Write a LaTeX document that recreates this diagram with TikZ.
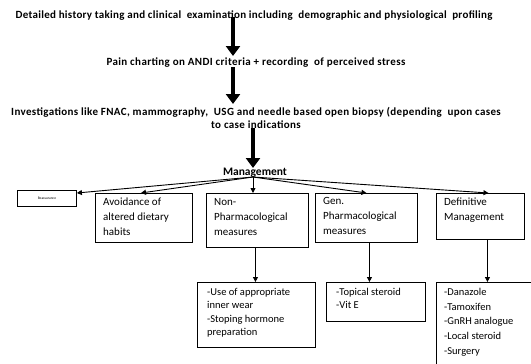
\documentclass[tikz,border=0pt]{standalone}
\usepackage{fontspec}
\setmainfont{Carlito}
\usetikzlibrary{arrows.meta}
\begin{document}
\begin{tikzpicture}[x=1pt,y=-1pt,
  toptext/.style={inner sep=0pt, align=center},
  bigarrow/.style={line width=4.5pt,-{Triangle[length=10pt,width=14pt]}},
  thinarrow/.style={line width=0.9pt,-{Triangle[length=5pt,width=5pt]}},
  catbox/.style={draw, line width=0.9pt, anchor=north west, inner sep=0pt},
  boxtext/.style={anchor=north west, inner sep=0pt, align=left, font=\fontsize{11}{15}\selectfont},
  subtext/.style={anchor=north west, inner sep=0pt, align=left, font=\fontsize{10.5}{13.5}\selectfont}
]
\useasboundingbox (0,0) rectangle (531,364);
\clip (0,0) rectangle (531,364);

% top texts
\node[toptext, font=\fontsize{11}{13}\selectfont\bfseries\addfontfeatures{LetterSpace=2.6}] (l1) at (254,16) {Detailed history taking and clinical\ \ examination including\ \ demographic and physiological\ \ profiling};
\node[toptext, font=\fontsize{11}{13}\selectfont\bfseries\addfontfeatures{LetterSpace=3.5}] (l2) at (256,63) {Pain charting on ANDI criteria + recording\ \ of perceived stress};
\node[toptext, font=\fontsize{11}{13}\selectfont\bfseries\addfontfeatures{LetterSpace=3.3}] (l3) at (256,118) {Investigations like FNAC, mammography,\ \ USG and needle based open biopsy (depending\ \ upon cases\\to case indications};
\node[font=\fontsize{11.5}{13}\selectfont\bfseries, inner sep=0pt] (mgt) at (255,173) {Management};

\coordinate (a1s) at (233,17);
\coordinate (a2s) at (233,67);
\coordinate (a3s) at (253,128);
\draw[bigarrow] (a1s) -- (233,56);
\draw[bigarrow] (a2s) -- (233,104);
\draw[bigarrow] (a3s) -- (253,168);

% category boxes
\node[catbox, minimum width=59pt, minimum height=16pt] (reass) at (17,190) {};
\node[font=\fontsize{3.6}{4}\selectfont, inner sep=0pt] at (reass.center) {Reassurance};
\node[catbox, minimum width=97pt, minimum height=49pt] (avoid) at (95,193) {};
\node[boxtext] at (103,198) {Avoidance of\\altered dietary\\habits};
\node[catbox, minimum width=102pt, minimum height=54pt] (np) at (206,193) {};
\node[boxtext] at (214,198) {Non-\\Pharmacological\\measures};
\node[catbox, minimum width=102pt, minimum height=49pt] (gen) at (315,193) {};
\node[boxtext] at (323,197) {Gen.\\Pharmacological\\measures};
\node[catbox, minimum width=88pt, minimum height=46pt] (def) at (436,193) {};
\node[boxtext] at (444,198) {Definitive\\Management};

% branch
\coordinate (mg) at (253,177);
\draw[thinarrow] (mg) -- ([yshift=-3pt]reass.north east);
\draw[thinarrow] (mg) -- ([xshift=-3pt]avoid.north);
\draw[thinarrow] (mg) -- (mg |- np.north);
\draw[thinarrow] (mg) -- (gen.north);
\draw[thinarrow] (mg) -- ([xshift=8pt]def.north);

% lower boxes
\node[catbox, minimum width=118pt, minimum height=65pt] (npl) at (197,282) {};
\node[subtext] at (207,288) {-Use of appropriate\\inner wear\\-Stoping hormone\\preparation};
\node[catbox, minimum width=99pt, minimum height=39pt] (genl) at (326,282) {};
\node[subtext] at (336,288) {-Topical steroid\\-Vit E};
\node[catbox, minimum width=110pt, minimum height=100pt] (defl) at (436,282) {};
\node[subtext, font=\fontsize{10.5}{14.7}\selectfont] at (444,288) {-Danazole\\-Tamoxifen\\-GnRH analogue\\-Local steroid\\-Surgery};

\draw[thinarrow] ([xshift=-2pt]np.south) -- ([xshift=-2pt]np.south |- npl.north);
\draw[thinarrow] ([xshift=3pt]gen.south) -- ([xshift=3pt]gen.south |- genl.north);
\draw[thinarrow] ([xshift=7pt]def.south) -- ([xshift=7pt]def.south |- defl.north);
\end{tikzpicture}
\end{document}
